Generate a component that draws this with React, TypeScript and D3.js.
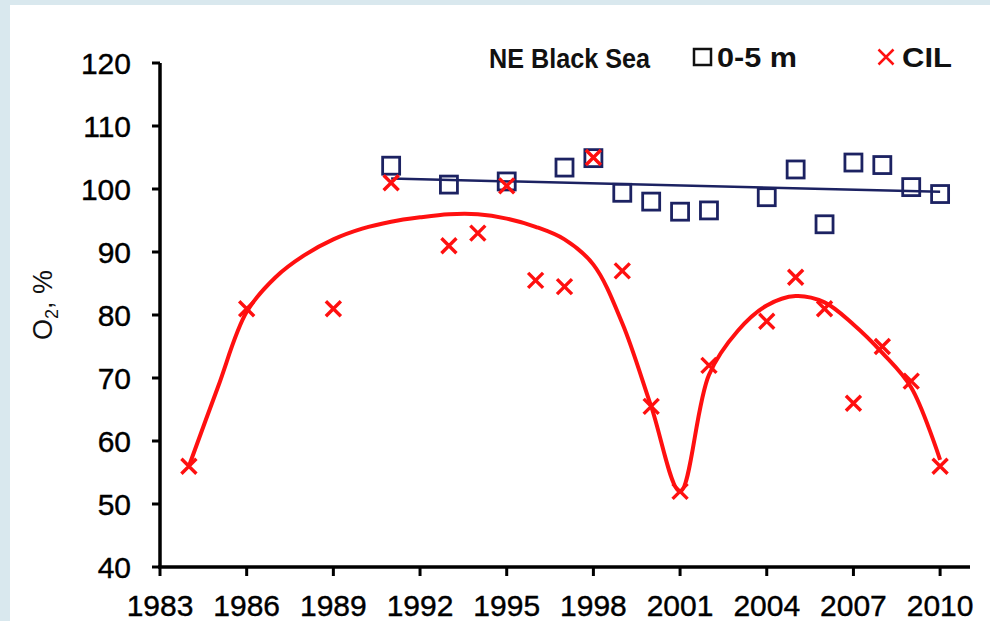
import React from "react";
import * as d3 from "d3";

// O2 saturation, NE Black Sea
const surfaceYears = [1991, 1993, 1995, 1997, 1998, 1999, 2000, 2001, 2002, 2004, 2005, 2006, 2007, 2008, 2009, 2010];
const surfaceValues = [103.7, 100.7, 101.2, 103.4, 104.9, 99.4, 98.0, 96.4, 96.6, 98.7, 103.1, 94.4, 104.2, 103.8, 100.3, 99.2];

const cilYears = [1984, 1986, 1989, 1991, 1993, 1994, 1995, 1996, 1997, 1998, 1999, 2000, 2001, 2002, 2004, 2005, 2006, 2007, 2008, 2009, 2010];
const cilValues = [56, 81, 81, 101, 91, 93, 100.5, 85.5, 84.5, 105, 87, 65.5, 52, 72, 79, 86, 81, 66, 75, 69.5, 56];

// smoothed CIL curve
const cilCurveYears = [1984, 1985, 1986, 1987, 1988, 1989, 1990, 1991, 1992, 1993, 1994, 1995, 1996, 1997, 1998, 1999, 2000, 2001, 2002, 2003, 2004, 2005, 2006, 2007, 2008, 2009, 2010];
const cilCurveValues = [56, 68.5, 80.5, 86, 89.5, 92, 93.7, 94.8, 95.5, 96, 96, 95.3, 94, 92, 88, 78.7, 65.5, 52, 70.5, 77.5, 81.5, 83, 82, 78.5, 74, 68.5, 57];

const xTicks = [1983, 1986, 1989, 1992, 1995, 1998, 2001, 2004, 2007, 2010];
const yTicks = [40, 50, 60, 70, 80, 90, 100, 110, 120];

const W = 990, H = 621;
const font = "'Liberation Sans', Arial, sans-serif";
const navy = "#1c2262";
const red = "#ff1010";

export default function App() {
  const x = d3.scaleLinear().domain([1983, 2011]).range([160, 969]);
  const y = d3.scaleLinear().domain([40, 120]).range([567, 63]);

  // linear trend of the surface series (least squares)
  const mx = d3.mean(surfaceYears)!;
  const my = d3.mean(surfaceValues)!;
  let num = 0, den = 0;
  surfaceYears.forEach((yr, i) => {
    num += (yr - mx) * (surfaceValues[i] - my);
    den += (yr - mx) * (yr - mx);
  });
  const slope = num / den;
  const trend = (yr: number) => my + slope * (yr - mx);
  const t0 = d3.min(surfaceYears)!, t1 = d3.max(surfaceYears)!;

  const curve = d3.line<number>()
    .x((d, i) => x(cilCurveYears[i]))
    .y(d => y(d))
    .curve(d3.curveCatmullRom.alpha(0.5))(cilCurveValues);

  const cross = "M-7.5,-7.5L7.5,7.5M-7.5,7.5L7.5,-7.5";

  return (
    <svg width={W} height={H} style={{ position: "absolute", left: 0, top: 0 }} fontFamily={font}>
      <rect width={W} height={H} fill="#d9e8ee" />
      <rect x={10} y={5} width={W - 10} height={H - 5} fill="#ffffff" />

      {/* axes */}
      <line x1={160} x2={160} y1={y(120)} y2={y(40)} stroke="#000" strokeWidth={3.5} />
      <line x1={158} x2={970} y1={y(40)} y2={y(40)} stroke="#000" strokeWidth={3.5} />
      {yTicks.map(t => (
        <g key={"y" + t}>
          <line x1={152} x2={160} y1={y(t)} y2={y(t)} stroke="#000" strokeWidth={3} />
          <text x={131} y={y(t) + 11} textAnchor="end" fontSize={30} fill="#000" stroke="#000" strokeWidth={0.4}>{t}</text>
        </g>
      ))}
      {xTicks.map(t => (
        <g key={"x" + t}>
          <line x1={x(t)} x2={x(t)} y1={y(40)} y2={y(40) + 9} stroke="#000" strokeWidth={3} />
          <text x={x(t)} y={616} textAnchor="middle" fontSize={30} fill="#000" stroke="#000" strokeWidth={0.4}>{t}</text>
        </g>
      ))}
      <text transform="translate(52,305) rotate(-90)" textAnchor="middle" fontSize={27} fill="#111">
        O<tspan fontSize={18} dy={6}>2</tspan><tspan dy={-6}>, %</tspan>
      </text>

      {/* CIL smoothed curve */}
      <path d={curve || ""} fill="none" stroke={red} strokeWidth={4} strokeLinejoin="round" />

      {/* surface trend */}
      <line x1={x(t0)} x2={x(t1)} y1={y(trend(t0))} y2={y(trend(t1))} stroke={navy} strokeWidth={2.5} />

      {surfaceYears.map((yr, i) => (
        <rect key={"s" + yr} x={x(yr) - 8.5} y={y(surfaceValues[i]) - 8.5} width={17} height={17}
          fill="none" stroke={navy} strokeWidth={2.8} />
      ))}
      {cilYears.map((yr, i) => (
        <path key={"c" + yr} d={cross} transform={`translate(${x(yr)},${y(cilValues[i])})`}
          stroke={red} strokeWidth={3.4} fill="none" />
      ))}

      {/* legend */}
      <text x={489} y={68} fontSize={28} fontWeight="bold" fill="#111" textLength={161} lengthAdjust="spacingAndGlyphs">NE Black Sea</text>
      <rect x={694} y={49} width={17} height={16} fill="none" stroke="#111" strokeWidth={2.5} />
      <text x={717} y={67} fontSize={28} fontWeight="bold" fill="#111" textLength={80} lengthAdjust="spacingAndGlyphs">0-5 m</text>
      <path d={cross} transform="translate(886,57)" stroke={red} strokeWidth={2.5} fill="none" />
      <text x={902} y={67} fontSize={28} fontWeight="bold" fill="#111" textLength={50} lengthAdjust="spacingAndGlyphs">CIL</text>
    </svg>
  );
}
